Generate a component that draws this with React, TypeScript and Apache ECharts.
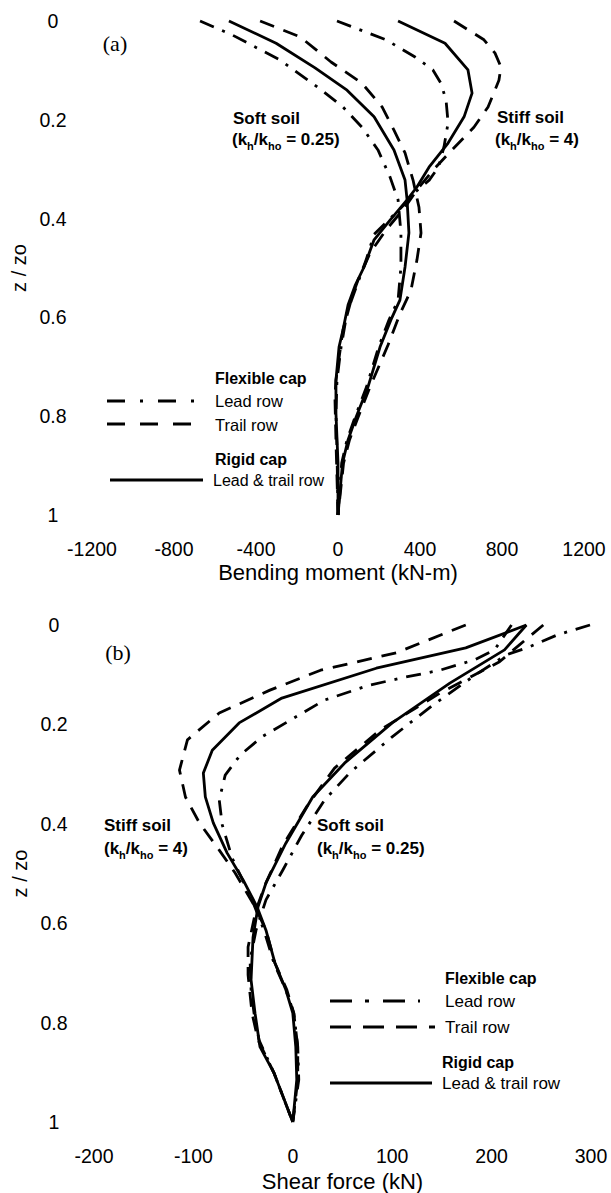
import React, { useEffect, useRef } from "react";
import * as echarts from "echarts";

// ---------- axis ticks ----------
const momentTicks = [-1200, -800, -400, 0, 400, 800, 1200];
const shearTicks = [-200, -100, 0, 100, 200, 300];
const depthTicks = [0, 0.2, 0.4, 0.6, 0.8, 1];

// ---------- (a) bending moment (kN-m) vs z/zo ----------
const momentSoftLead = [[-673, 0], [-517, 0.028], [-283, 0.079], [-93, 0.136], [24, 0.174], [117, 0.215], [195, 0.261], [254, 0.316], [293, 0.362], [307, 0.429], [307, 0.498], [293, 0.565], [249, 0.605], [198, 0.66], [139, 0.741], [83, 0.802], [44, 0.848], [18, 0.895], [0, 1]];
const momentSoftTrail = [[-380, 0], [-185, 0.032], [-34, 0.083], [117, 0.126], [215, 0.174], [273, 0.221], [327, 0.267], [366, 0.322], [395, 0.377], [405, 0.429], [385, 0.484], [356, 0.545], [300, 0.595], [244, 0.656], [156, 0.741], [98, 0.802], [56, 0.848], [27, 0.895], [0, 1]];
const momentSoftRigid = [[-532, 0], [-302, 0.045], [-112, 0.095], [44, 0.14], [176, 0.194], [273, 0.261], [327, 0.322], [337, 0.362], [346, 0.429], [327, 0.498], [302, 0.565], [258, 0.605], [205, 0.66], [146, 0.741], [88, 0.802], [49, 0.848], [22, 0.895], [0, 1]];
const momentStiffLead = [[-5, 0], [234, 0.038], [376, 0.073], [463, 0.099], [502, 0.126], [527, 0.16], [537, 0.206], [517, 0.255], [490, 0.296], [445, 0.322], [380, 0.345], [327, 0.37], [254, 0.4], [176, 0.432], [137, 0.484], [78, 0.551], [44, 0.591], [15, 0.66], [-5, 0.727], [-10, 0.794], [-5, 0.868], [0, 1]];
const momentStiffTrail = [[566, 0], [712, 0.038], [766, 0.065], [795, 0.093], [785, 0.12], [732, 0.174], [663, 0.215], [556, 0.261], [463, 0.302], [385, 0.342], [327, 0.377], [234, 0.423], [156, 0.47], [98, 0.524], [68, 0.559], [24, 0.626], [-10, 0.727], [-15, 0.761], [-10, 0.848], [0, 1]];
const momentStiffRigid = [[293, 0], [522, 0.045], [634, 0.099], [654, 0.146], [615, 0.194], [537, 0.247], [444, 0.296], [385, 0.336], [337, 0.362], [254, 0.403], [176, 0.443], [127, 0.498], [85, 0.534], [49, 0.575], [24, 0.626], [5, 0.66], [-10, 0.727], [-10, 0.794], [0, 0.895], [0, 1]];

// ---------- (b) shear force (kN) vs z/zo ----------
const shearStiffLead = [[220, 0], [203, 0.05], [183, 0.07], [148, 0.091], [113, 0.105], [77, 0.121], [32, 0.151], [-31, 0.225], [-53, 0.262], [-68, 0.302], [-74, 0.352], [-71, 0.402], [-61, 0.469], [-41, 0.553], [-29, 0.614], [-19, 0.68], [-7, 0.734], [1, 0.781], [5, 0.849], [6, 0.915], [0, 1]];
const shearStiffTrail = [[174, 0], [104, 0.056], [28, 0.091], [-23, 0.131], [-74, 0.177], [-106, 0.231], [-114, 0.292], [-108, 0.346], [-94, 0.398], [-74, 0.453], [-58, 0.499], [-38, 0.567], [-27, 0.614], [-18, 0.68], [-6, 0.734], [1, 0.781], [5, 0.849], [5, 0.915], [0, 1]];
const shearStiffRigid = [[235, 0], [174, 0.046], [84, 0.087], [-11, 0.147], [-54, 0.197], [-81, 0.252], [-90, 0.298], [-88, 0.346], [-80, 0.398], [-66, 0.459], [-50, 0.513], [-36, 0.567], [-27, 0.614], [-18, 0.68], [-7, 0.734], [0, 0.781], [3, 0.849], [4, 0.915], [0, 1]];
const shearSoftLead = [[299, 0], [266, 0.02], [238, 0.044], [215, 0.06], [184, 0.1], [141, 0.161], [100, 0.225], [58, 0.296], [32, 0.352], [9, 0.423], [-10, 0.493], [-27, 0.553], [-37, 0.614], [-43, 0.674], [-42, 0.734], [-39, 0.781], [-34, 0.835], [-19, 0.901], [0, 1]];
const shearSoftTrail = [[252, 0], [228, 0.04], [208, 0.074], [148, 0.137], [88, 0.211], [42, 0.288], [15, 0.362], [-10, 0.443], [-27, 0.519], [-37, 0.573], [-45, 0.648], [-45, 0.704], [-41, 0.781], [-35, 0.835], [-19, 0.901], [0, 1]];
const shearSoftRigid = [[235, 0], [213, 0.05], [158, 0.117], [100, 0.197], [52, 0.278], [20, 0.346], [-7, 0.439], [-27, 0.519], [-35, 0.567], [-40, 0.628], [-42, 0.714], [-38, 0.781], [-33, 0.849], [-19, 0.901], [0, 1]];

const FONT = "'Liberation Sans', Arial, Helvetica, sans-serif";
const SERIF = "'Liberation Serif', 'Times New Roman', serif";

const DASH_LEAD = [15, 9, 3, 9];
const DASH_TRAIL = [15, 10];

function curve(name: string, data: number[][], dash: any, idx: number) {
  return {
    type: "line",
    name,
    data,
    xAxisIndex: idx,
    yAxisIndex: idx,
    symbol: "none",
    showSymbol: false,
    silent: true,
    clip: false,
    lineStyle: { color: "#000", width: 2.8, type: dash, cap: "butt", join: "round" },
  };
}

function xAxis(idx: number, ticks: number[], name: string, gap: number) {
  return {
    type: "value",
    gridIndex: idx,
    min: ticks[0],
    max: ticks[ticks.length - 1],
    interval: ticks[1] - ticks[0],
    axisLine: { show: false },
    axisTick: { show: false },
    splitLine: { show: false },
    axisLabel: {
      color: "#000",
      fontSize: 19.5,
      fontFamily: FONT,
      margin: 24,
      formatter: (v: number) => String(v),
    },
    name,
    nameLocation: "middle",
    nameGap: gap,
    nameTextStyle: { color: "#000", fontSize: 22, fontFamily: FONT },
  };
}

function yAxis(idx: number, margin: number) {
  return {
    type: "value",
    gridIndex: idx,
    min: depthTicks[0],
    max: depthTicks[depthTicks.length - 1],
    interval: depthTicks[1] - depthTicks[0],
    inverse: true,
    axisLine: { show: false },
    axisTick: { show: false },
    splitLine: { show: false },
    axisLabel: {
      color: "#000",
      fontSize: 19.5,
      fontFamily: FONT,
      margin,
      align: "center",
      formatter: (v: number) => String(Math.round(v * 10) / 10),
    },
    name: "z / zo",
    nameLocation: "middle",
    nameGap: 61,
    nameTextStyle: { color: "#000", fontSize: 20, fontFamily: FONT },
  };
}

function label(x: number, y: number, text: string, size: number, bold: boolean) {
  return {
    type: "text",
    x,
    y,
    silent: true,
    style: {
      text,
      fill: "#000",
      fontFamily: FONT,
      fontSize: size,
      fontWeight: bold ? "bold" : "normal",
      align: "left",
      verticalAlign: "middle",
    },
  };
}

function ratio(x: number, y: number, value: string) {
  return {
    type: "text",
    x,
    y,
    silent: true,
    style: {
      text: "{m|(k}{s|h}{m|/k}{s|ho}{m| = " + value + ")}",
      fill: "#000",
      fontFamily: FONT,
      fontSize: 17,
      fontWeight: "bold",
      align: "left",
      verticalAlign: "middle",
      rich: {
        m: { fontSize: 17, fontWeight: "bold", fontFamily: FONT, fill: "#000", lineHeight: 20, verticalAlign: "middle" },
        s: { fontSize: 11, fontWeight: "bold", fontFamily: FONT, fill: "#000", lineHeight: 24, verticalAlign: "bottom" },
      },
    },
  };
}

function legendLine(x1: number, x2: number, y: number, dash: any) {
  return {
    type: "line",
    silent: true,
    shape: { x1, y1: y, x2, y2: y },
    style: { stroke: "#000", lineWidth: 3, lineDash: dash, lineCap: "butt" },
  };
}

export default function App() {
  const ref = useRef<HTMLDivElement>(null);
  useEffect(() => {
    if (!ref.current) return;
    const chart = echarts.init(ref.current, undefined, { renderer: "svg" });
    chart.setOption({
      animation: false,
      backgroundColor: "#fff",
      grid: [
        { left: 92, right: 27, top: 21, height: 494 },
        { left: 94, right: 20, top: 625, height: 497 },
      ],
      xAxis: [
        xAxis(0, momentTicks, "Bending moment (kN-m)", 46),
        xAxis(1, shearTicks, "Shear force (kN)", 48),
      ],
      yAxis: [yAxis(0, 39), yAxis(1, 40)],
      series: [
        curve("Soft soil - flexible cap lead row", momentSoftLead, DASH_LEAD, 0),
        curve("Soft soil - flexible cap trail row", momentSoftTrail, DASH_TRAIL, 0),
        curve("Soft soil - rigid cap", momentSoftRigid, "solid", 0),
        curve("Stiff soil - flexible cap lead row", momentStiffLead, DASH_LEAD, 0),
        curve("Stiff soil - flexible cap trail row", momentStiffTrail, DASH_TRAIL, 0),
        curve("Stiff soil - rigid cap", momentStiffRigid, "solid", 0),
        curve("Stiff soil - flexible cap lead row (V)", shearStiffLead, DASH_LEAD, 1),
        curve("Stiff soil - flexible cap trail row (V)", shearStiffTrail, DASH_TRAIL, 1),
        curve("Stiff soil - rigid cap (V)", shearStiffRigid, "solid", 1),
        curve("Soft soil - flexible cap lead row (V)", shearSoftLead, DASH_LEAD, 1),
        curve("Soft soil - flexible cap trail row (V)", shearSoftTrail, DASH_TRAIL, 1),
        curve("Soft soil - rigid cap (V)", shearSoftRigid, "solid", 1),
      ],
      graphic: [
        // panel tags
        { type: "text", x: 115, y: 43, silent: true, style: { text: "(a)", fill: "#000", fontFamily: SERIF, fontSize: 22, align: "center", verticalAlign: "middle" } },
        { type: "text", x: 118, y: 652, silent: true, style: { text: "(b)", fill: "#000", fontFamily: SERIF, fontSize: 22, align: "center", verticalAlign: "middle" } },
        // (a) annotations
        label(233, 118, "Soft soil", 17, true),
        ratio(232, 139, "0.25"),
        label(497, 117, "Stiff soil", 17, true),
        ratio(495, 139, "4"),
        // (a) legend
        label(215, 378, "Flexible cap", 16, true),
        legendLine(107, 197, 401, [18, 15, 3, 15]),
        label(215, 401, "Lead row", 16.5, false),
        legendLine(107, 192, 424, [18, 15]),
        label(215, 425, "Trail row", 16.5, false),
        label(215, 459, "Rigid cap", 16, true),
        legendLine(110, 203, 480, "solid"),
        label(213, 480, "Lead & trail row", 16, false),
        // (b) annotations
        label(104, 825, "Stiff soil", 17, true),
        ratio(104, 848, "4"),
        label(317, 825, "Soft soil", 17, true),
        ratio(317, 848, "0.25"),
        // (b) legend
        label(445, 978, "Flexible cap", 16, true),
        legendLine(330, 420, 1001, [22, 13, 4, 14]),
        label(445, 1001, "Lead row", 17, false),
        legendLine(330, 435, 1027, [21, 12]),
        label(445, 1027, "Trail row", 17, false),
        label(442, 1062, "Rigid cap", 16, true),
        legendLine(330, 432, 1083, "solid"),
        label(442, 1083, "Lead & trail row", 17, false),
      ],
    });
    return () => chart.dispose();
  }, []);
  return (
    <div
      ref={ref}
      style={{ position: "absolute", left: 0, top: 0, width: 611, height: 1193, background: "#fff" }}
    />
  );
}
